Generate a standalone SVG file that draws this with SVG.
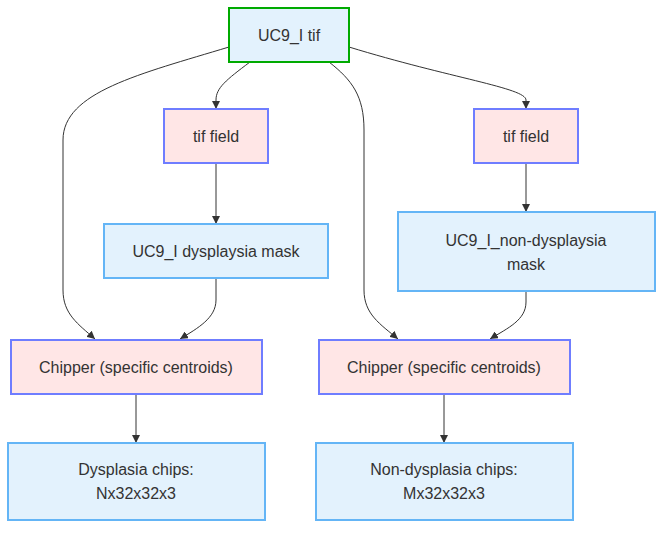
<svg xmlns="http://www.w3.org/2000/svg" width="671" height="534" viewBox="0 0 671 534">
<style>
.blue{fill:#e3f2fd;stroke:#64b5f6;stroke-width:2}
.pink{fill:#ffe6e6;stroke:#6f7dff;stroke-width:2}
.green{fill:#e3f2fd;stroke:#00aa00;stroke-width:2}
text{font-family:"Liberation Sans",Arial,sans-serif;font-size:16px;fill:#333;text-anchor:middle;dominant-baseline:central}
.edge{fill:none;stroke:#333;stroke-width:1}
</style>
<defs>
<marker id="arr" viewBox="0 0 10 10" refX="10" refY="5" markerWidth="8" markerHeight="8" markerUnits="userSpaceOnUse" orient="auto">
<path d="M0,0 L10,5 L0,10 z" fill="#333"/>
</marker>
</defs>
<rect width="671" height="534" fill="#fff"/>
<g id="edges">
<path class="edge" marker-end="url(#arr)" d="M229,47 C140,74 63,92 63,140 L63,290 C63,314 78,324 95,339"/>
<path class="edge" marker-end="url(#arr)" d="M250,62 C226,80 216,88 216,100 L216,109"/>
<path class="edge" marker-end="url(#arr)" d="M329,62 C352,80 364,96 364,130 L364,290 C364,314 380,324 398,339"/>
<path class="edge" marker-end="url(#arr)" d="M349,47 C450,78 526,88 526,100 L526,109"/>
<path class="edge" marker-end="url(#arr)" d="M216,163 L216,224"/>
<path class="edge" marker-end="url(#arr)" d="M526,163 L526,212"/>
<path class="edge" marker-end="url(#arr)" d="M216,278 L216,300 C216,318 198,328 180,339"/>
<path class="edge" marker-end="url(#arr)" d="M526,291 L526,302 C526,320 508,328 490,339"/>
<path class="edge" marker-end="url(#arr)" d="M136,394 L136,443"/>
<path class="edge" marker-end="url(#arr)" d="M444,394 L444,443"/>
</g>
<g id="n_tif"><rect class="green" x="229" y="8" width="120" height="54"/><text x="289" y="35">UC9_I tif</text></g>
<g id="n_field1"><rect class="pink" x="164" y="109" width="104" height="54"/><text x="216" y="136">tif field</text></g>
<g id="n_field2"><rect class="pink" x="474" y="109" width="104" height="54"/><text x="526" y="136">tif field</text></g>
<g id="n_mask1"><rect class="blue" x="104" y="224" width="224" height="54"/><text x="216" y="251">UC9_I dysplaysia mask</text></g>
<g id="n_mask2"><rect class="blue" x="398" y="212" width="257" height="79"/><text x="526" y="240">UC9_I_non-dysplaysia</text><text x="526" y="264">mask</text></g>
<g id="n_chip1"><rect class="pink" x="11" y="340" width="251" height="54"/><text x="136" y="367">Chipper (specific centroids)</text></g>
<g id="n_chip2"><rect class="pink" x="319" y="340" width="251" height="54"/><text x="444" y="367">Chipper (specific centroids)</text></g>
<g id="n_out1"><rect class="blue" x="8" y="443" width="257" height="77"/><text x="136" y="469">Dysplasia chips:</text><text x="136" y="493">Nx32x32x3</text></g>
<g id="n_out2"><rect class="blue" x="316" y="443" width="257" height="77"/><text x="444" y="469">Non-dysplasia chips:</text><text x="444" y="493">Mx32x32x3</text></g>
</svg>
